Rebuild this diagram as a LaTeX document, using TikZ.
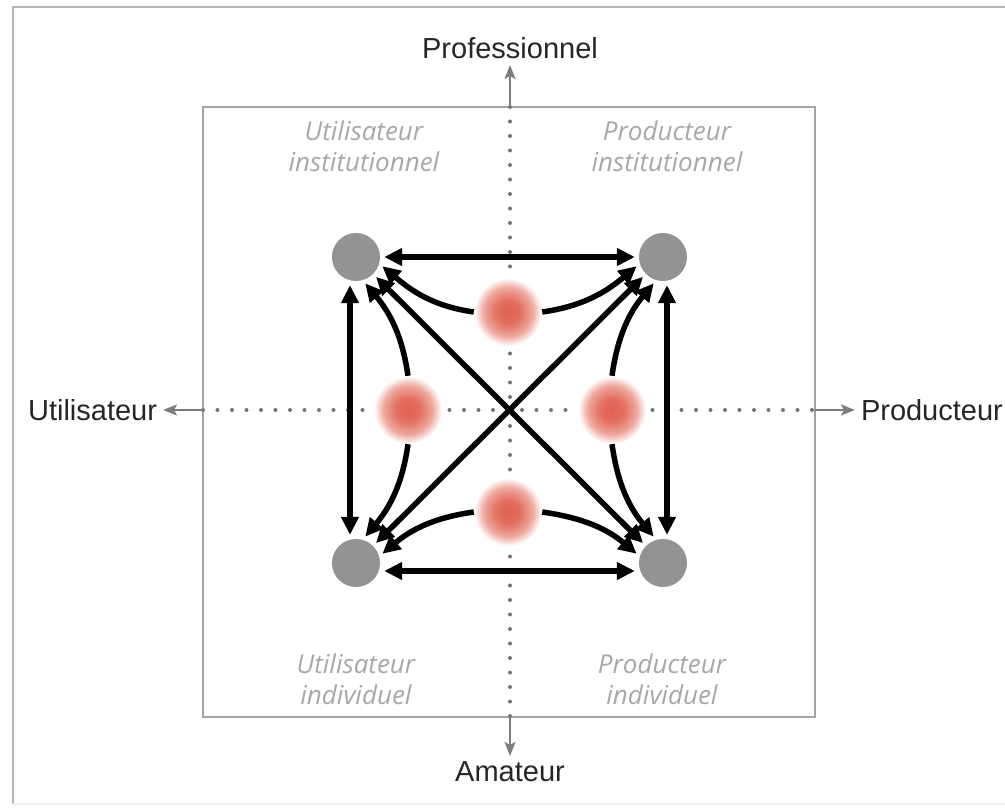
\documentclass[tikz,border=0pt]{standalone}
\usepackage{fontspec}
\setmainfont{Liberation Sans}
\newfontfamily\quadfont{Open Sans}
\usepackage{tikz}
\usetikzlibrary{arrows.meta,positioning}
\definecolor{qNode}{HTML}{939393}
\definecolor{qGlow}{HTML}{E0604F}
\definecolor{qAxis}{HTML}{7D7D7D}
\definecolor{qDot}{HTML}{737373}
\definecolor{qBox}{HTML}{A3A3A3}
\definecolor{qLabel}{HTML}{A8A8A8}
\definecolor{qText}{HTML}{262626}
\pgfdeclareradialshading{redglow}{\pgfpoint{0bp}{0bp}}{color(0bp)=(qGlow); color(9bp)=(qGlow!90!white); color(18bp)=(qGlow!55!white); color(25bp)=(white); color(50bp)=(white)}
\tikzset{
  arr/.style={{Triangle[length=18pt,width=17pt]}-{Triangle[length=18pt,width=17pt]}, line width=5.5pt, draw=black, shorten <=4pt, shorten >=4pt},
  arrc/.style={-{Triangle[length=18pt,width=17pt]}, line width=5.5pt, draw=black, shorten >=4pt},
  axarr/.style={-{Stealth[length=14pt,width=11pt,inset=3pt]}, line width=2.2pt, draw=qAxis},
  axdots/.style={draw=qDot, line width=4pt, line cap=round, dash pattern=on 0pt off 14.5pt},
  actor/.style={circle, fill=qNode, minimum size=48pt, inner sep=0pt},
  glow/.style={circle, minimum size=68pt, inner sep=0pt, shade, shading=redglow},
  axlabel/.style={font=\fontsize{29}{33}\selectfont, text=qText, inner sep=0pt, outer sep=6pt},
  quad/.style={font=\quadfont\itshape\fontsize{26}{31}\selectfont, text=qLabel, align=center, inner sep=0pt}
}
\begin{document}
\begin{tikzpicture}[x=1pt,y=1pt]
  \useasboundingbox (-510,-401) rectangle (495,410);
  \fill[white] (-510,-401) rectangle (495,410);
  % frame
  \draw[qBox!80, line width=2pt] (520,403) -- (-497,403) -- (-497,-394);
  \draw[black!7, line width=2pt] (-497,-394) -- (520,-394);
  \draw[qBox, line width=2pt] (-307,-307) rectangle (305,303);
  % axes
  \coordinate (yTop) at (0,303);
  \coordinate (yBot) at (0,-307);
  \coordinate (xL) at (-307,0);
  \coordinate (xR) at (305,0);
  \draw[axdots] (xL) -- (xR);
  \draw[axdots] (yTop) -- (yBot);
  \node[axlabel, anchor=south] (pro) at (0,345) {Professionnel};
  \node[axlabel, anchor=north] (ama) at (0,-346) {Amateur};
  \node[axlabel, anchor=east] (uti) at (-347,0) {Utilisateur};
  \node[axlabel, anchor=west] (prd) at (345,0) {Producteur};
  \draw[axarr] (yTop) -- (pro);
  \draw[axarr] (yBot) -- (ama);
  \draw[axarr] (xL) -- (uti);
  \draw[axarr] (xR) -- (prd);
  % quadrants
  \node[quad] (qtl) at (-146,264) {Utilisateur\\institutionnel};
  \node[quad] (qtr) at (157,264) {Producteur\\institutionnel};
  \node[quad] (qbl) at (-154,-269) {Utilisateur\\individuel};
  \node[quad] (qbr) at (152,-269) {Producteur\\individuel};
  % glows and actors
  \node[glow] (tb) at (-2,98) {};
  \node[glow] (bb) at (-2,-102) {};
  \node[glow] (lb) at (-102,0) {};
  \node[glow] (rb) at (102,0) {};
  \node[actor] (tl) at (-154,153) {};
  \node[actor] (tr) at (153,153) {};
  \node[actor] (bl) at (-154,-153) {};
  \node[actor] (br) at (153,-153) {};
  % links
  \draw[arr] (tl) -- (tr);
  \draw[arr] ([yshift=-8pt]bl.east) -- ([yshift=-8pt]br.west);
  \draw[arr] ([xshift=-6pt]tl.south) -- ([xshift=-6pt]bl.north);
  \draw[arr] ([xshift=4pt]tr.south) -- ([xshift=4pt]br.north);
  \draw[arr] (tl) -- (br);
  \draw[arr] (tr) -- (bl);
  \draw[arrc] (tb.180) to[out=172,in=-40] (tl.344);
  \draw[arrc] (tb.0) to[out=8,in=220] (tr.196);
  \draw[arrc] (lb.90) to[out=98,in=-50] (tl.286);
  \draw[arrc] (lb.270) to[out=262,in=50] (bl.74);
  \draw[arrc] (rb.90) to[out=82,in=230] (tr.254);
  \draw[arrc] (rb.270) to[out=278,in=130] (br.106);
  \draw[arrc] (bb.180) to[out=188,in=40] (bl.16);
  \draw[arrc] (bb.0) to[out=-8,in=140] (br.164);
\end{tikzpicture}
\end{document}
